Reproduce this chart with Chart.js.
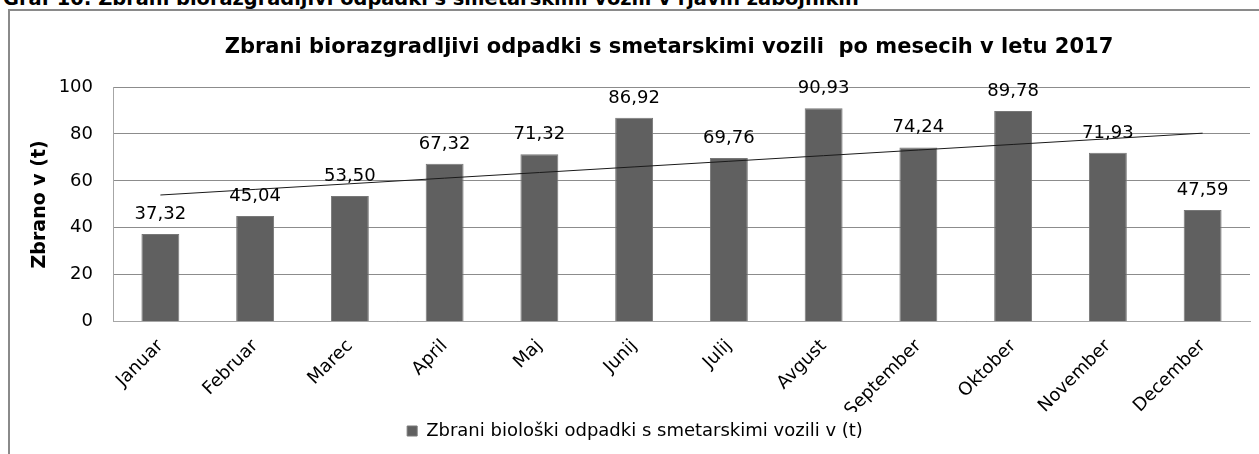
<!DOCTYPE html>
<html>
<head>
<meta charset="utf-8">
<script src="https://cdn.jsdelivr.net/npm/chart.js@4/dist/chart.umd.min.js"></script>
<style>
  html, body { margin: 0; padding: 0; background: #fff; overflow: hidden; }
  body { width: 1259px; height: 454px; position: relative; }
  #heading { position: absolute; left: 3px; top: -11px; font: bold 19.4px "DejaVu Sans", sans-serif; line-height: 20px; color: #000; white-space: nowrap; }
  #frame { position: absolute; left: 8px; top: 9px; width: 1400px; height: 600px; border: 2px solid #8a8a8a; }
  #wrap { position: absolute; left: 0; top: 0; width: 1259px; height: 454px; }
</style>
</head>
<body>
<div id="heading">Graf 10: Zbrani biorazgradljivi odpadki s smetarskimi vozili v rjavih zabojnikih</div>
<div id="frame"></div>
<div id="wrap"><canvas id="c" width="1259" height="454"></canvas></div>
<script>
const categories = ["Januar", "Februar", "Marec", "April", "Maj", "Junij", "Julij", "Avgust", "September", "Oktober", "November", "December"];
const values = [37.32, 45.04, 53.50, 67.32, 71.32, 86.92, 69.76, 90.93, 74.24, 89.78, 71.93, 47.59];
const yTicks = [0, 20, 40, 60, 80, 100];
const seriesName = "Zbrani biološki odpadki s smetarskimi vozili v (t)";
const chartTitle = "Zbrani biorazgradljivi odpadki s smetarskimi vozili  po mesecih v letu 2017";
const yTitle = "Zbrano v (t)";

// Linear trendline (least squares) derived from the values
const n = values.length;
const xs = values.map((_, i) => i + 1);
const mx = xs.reduce((a, b) => a + b, 0) / n;
const my = values.reduce((a, b) => a + b, 0) / n;
let sxy = 0, sxx = 0;
xs.forEach((x, i) => { sxy += (x - mx) * (values[i] - my); sxx += (x - mx) * (x - mx); });
const slope = sxy / sxx;
const trend = xs.map(x => my + slope * (x - mx));

const FONT = '"DejaVu Sans", sans-serif';

const labelPlugin = {
  id: 'barLabels',
  afterLayout(chart) {
    // centre the chart title like the original (over the frame, not the canvas)
    if (chart.titleBlock) {
      chart.titleBlock.left = 88;
      chart.titleBlock.right = 1250;
    }
  },
  afterDatasetsDraw(chart) {
    const meta = chart.getDatasetMeta(0);
    const ctx = chart.ctx;
    ctx.save();
    ctx.font = '18px ' + FONT;
    ctx.fillStyle = '#000';
    ctx.textAlign = 'center';
    ctx.textBaseline = 'alphabetic';
    meta.data.forEach((bar, i) => {
      ctx.fillText(values[i].toFixed(2).replace('.', ','), bar.x, bar.y - 15);
    });
    ctx.restore();
  }
};

new Chart(document.getElementById('c'), {
  type: 'bar',
  data: {
    labels: categories,
    datasets: [
      {
        label: seriesName,
        data: values,
        backgroundColor: '#606060',
        borderColor: '#787878',
        borderWidth: 1,
        barPercentage: 0.4,
        categoryPercentage: 1.0,
        order: 2
      },
      {
        type: 'line',
        label: 'trend',
        data: trend,
        borderColor: '#1a1a1a',
        borderWidth: 1,
        pointRadius: 0,
        fill: false,
        tension: 0,
        order: 1
      }
    ]
  },
  options: {
    responsive: false,
    animation: false,
    layout: { padding: { left: 20, right: 9, top: 0, bottom: 4 } },
    plugins: {
      title: {
        display: true,
        text: chartTitle,
        color: '#000',
        font: { family: FONT, size: 21, weight: 'bold', lineHeight: 1.2 },
        padding: { top: 35, bottom: 26.8 }
      },
      legend: {
        position: 'bottom',
        labels: {
          filter: (item) => item.datasetIndex === 0,
          boxWidth: 10,
          boxHeight: 10,
          padding: 10,
          color: '#000',
          font: { family: FONT, size: 18 }
        }
      },
      tooltip: { enabled: false }
    },
    scales: {
      x: {
        grid: { display: false },
        border: { display: true, color: '#a6a6a6', width: 1 },
        ticks: {
          color: '#000',
          font: { family: FONT, size: 18 },
          maxRotation: 45,
          minRotation: 45,
          padding: 6
        },
        afterFit(scale) { scale.height = 90.4; }
      },
      y: {
        min: 0,
        max: 100,
        afterBuildTicks(scale) { scale.ticks = yTicks.map(v => ({ value: v })); },
        grid: { color: '#8c8c8c', lineWidth: 1, drawTicks: false },
        border: { display: true, color: '#a6a6a6', width: 1 },
        ticks: {
          color: '#000',
          font: { family: FONT, size: 18 },
          padding: 20
        },
        title: {
          display: true,
          text: yTitle,
          color: '#000',
          font: { family: FONT, size: 19, weight: 'bold', lineHeight: 1.2 },
          padding: { top: 9, bottom: 0 }
        },
        afterFit(scale) { scale.width = 93; }
      }
    }
  },
  plugins: [labelPlugin]
});
</script>
</body>
</html>
